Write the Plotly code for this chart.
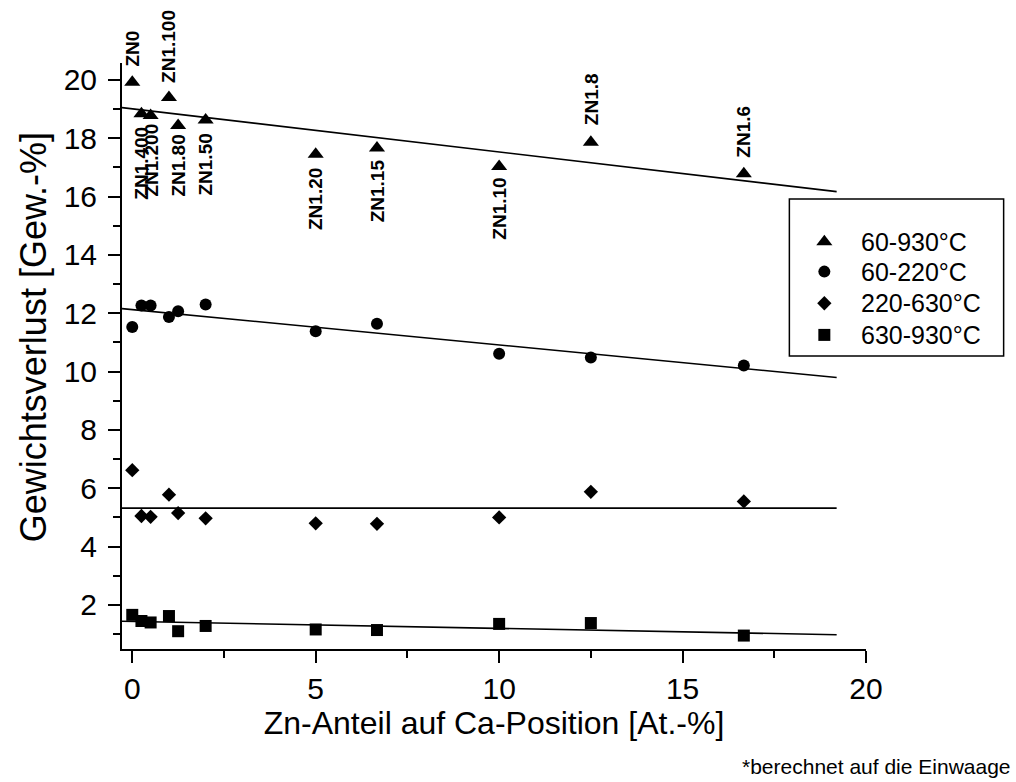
import plotly.graph_objects as go

# --- data -------------------------------------------------------------
zn_content = [0, 0.25, 0.5, 1.0, 1.25, 2.0, 5.0, 6.67, 10.0, 12.5, 16.67]
sample_labels = ["ZN0", "ZN1.400", "ZN1.200", "ZN1.100", "ZN1.80", "ZN1.50",
                 "ZN1.20", "ZN1.15", "ZN1.10", "ZN1.8", "ZN1.6"]

loss_60_930 = [19.92, 18.84, 18.78, 19.40, 18.44, 18.63, 17.45, 17.67, 17.03, 17.86, 16.78]
loss_60_220 = [11.53, 12.27, 12.27, 11.87, 12.07, 12.30, 11.38, 11.64, 10.61, 10.48, 10.21]
loss_220_630 = [6.62, 5.05, 5.02, 5.78, 5.15, 4.97, 4.80, 4.78, 5.00, 5.88, 5.55]
loss_630_930 = [1.66, 1.45, 1.40, 1.62, 1.10, 1.28, 1.16, 1.14, 1.35, 1.38, 0.95]

fit_x = [-0.28, 19.2]
fit_60_930 = [19.05, 16.17]
fit_60_220 = [12.16, 9.80]
fit_220_630 = [5.32, 5.32]
fit_630_930 = [1.44, 0.98]

series_names = ["60-930°C", "60-220°C", "220-630°C", "630-930°C"]

x_ticks = [0, 5, 10, 15, 20]
y_ticks = [2, 4, 6, 8, 10, 12, 14, 16, 18, 20]

# label placement (style): pixel shift from point, + = above, - = below
label_shift = [14, -11, -6, 13, -7, -12, -12, -9, -9, 15, 14]

FONT = "Arial, Liberation Sans, sans-serif"

fig = go.Figure()

series = [
    (loss_60_930, fit_60_930, "triangle-up", 14),
    (loss_60_220, fit_60_220, "circle", 12),
    (loss_220_630, fit_220_630, "diamond", 11),
    (loss_630_930, fit_630_930, "square", 12),
]

for (vals, fit, sym, size), name in zip(series, series_names):
    fig.add_trace(go.Scatter(
        x=fit_x, y=fit, mode="lines",
        line=dict(color="black", width=1.6),
        showlegend=False, hoverinfo="skip"))

for (vals, fit, sym, size), name in zip(series, series_names):
    fig.add_trace(go.Scatter(
        x=zn_content, y=vals, mode="markers", name=name,
        marker=dict(symbol=sym, size=size, color="black", line=dict(width=0)),
        showlegend=False))

# --- legend drawn by hand (box, symbols on an overlay axis, texts) ----
leg_x0, leg_x1, leg_y0, leg_y1 = 0.897, 1.185, 0.500, 0.768
leg_sym_x = 0.944
leg_txt_x = 0.990
leg_rows = [0.695, 0.644, 0.590, 0.536]

fig.add_shape(type="rect", xref="paper", yref="paper",
              x0=leg_x0, x1=leg_x1, y0=leg_y0, y1=leg_y1,
              line=dict(color="black", width=1.5), fillcolor="white",
              layer="below")

for (vals, fit, sym, size), name, ry in zip(series, series_names, leg_rows):
    fig.add_trace(go.Scatter(
        x=[leg_sym_x], y=[ry], xaxis="x2", yaxis="y2", mode="markers",
        marker=dict(symbol=sym, size=size, color="black", line=dict(width=0)),
        cliponaxis=False, showlegend=False, hoverinfo="skip"))
    fig.add_annotation(x=leg_txt_x, y=ry, xref="paper", yref="paper",
                       text=name, showarrow=False, xanchor="left",
                       yanchor="middle",
                       font=dict(family=FONT, size=25, color="black"))

# --- sample labels ----------------------------------------------------
for xv, yv, lab, sh in zip(zn_content, loss_60_930, sample_labels, label_shift):
    fig.add_annotation(
        x=xv, y=yv, xref="x", yref="y", text="<b>%s</b>" % lab,
        showarrow=False, textangle=-90,
        xanchor="center", yanchor="bottom" if sh > 0 else "top",
        yshift=sh, font=dict(family=FONT, size=19, color="black"))

# y axis title (as annotation to match its position)
fig.add_annotation(x=-0.1197, y=0.532, xref="paper", yref="paper",
                   text="Gewichtsverlust [Gew.-%]", showarrow=False,
                   textangle=-90, xanchor="center", yanchor="middle",
                   font=dict(family=FONT, size=36, color="black"))

fig.add_annotation(
    x=1.1975, y=-0.1997, xref="paper", yref="paper",
    xanchor="right", yanchor="middle",
    text="*berechnet auf die Einwaage", showarrow=False,
    font=dict(family=FONT, size=21, color="black"))

axis_common = dict(
    showgrid=False, zeroline=False, showline=True, linecolor="black",
    linewidth=2, ticks="outside", ticklen=12, tickwidth=2, tickcolor="black",
    mirror=False, tickfont=dict(family=FONT, size=30, color="black"),
)

fig.update_layout(
    width=1016, height=782,
    margin=dict(l=122, r=150, t=63, b=133),
    paper_bgcolor="white", plot_bgcolor="white",
    font=dict(family=FONT, color="black"),
    xaxis=dict(range=[-0.28, 20], tickvals=x_ticks,
               minor=dict(dtick=2.5, ticklen=7, tickwidth=2,
                          tickcolor="black", ticks="outside", showgrid=False),
               title=dict(text="Zn-Anteil auf Ca-Position [At.-%]",
                          font=dict(family=FONT, size=32), standoff=6),
               **axis_common),
    yaxis=dict(range=[0.49, 20.58], tickvals=y_ticks,
               minor=dict(dtick=1, ticklen=7, tickwidth=2,
                          tickcolor="black", ticks="outside", showgrid=False),
               ticklabelstandoff=5,
               **axis_common),
    xaxis2=dict(range=[0, 1], overlaying="x", visible=False, fixedrange=True),
    yaxis2=dict(range=[0, 1], overlaying="y", visible=False, fixedrange=True),
    showlegend=False,
)

fig.write_html("out.html")
